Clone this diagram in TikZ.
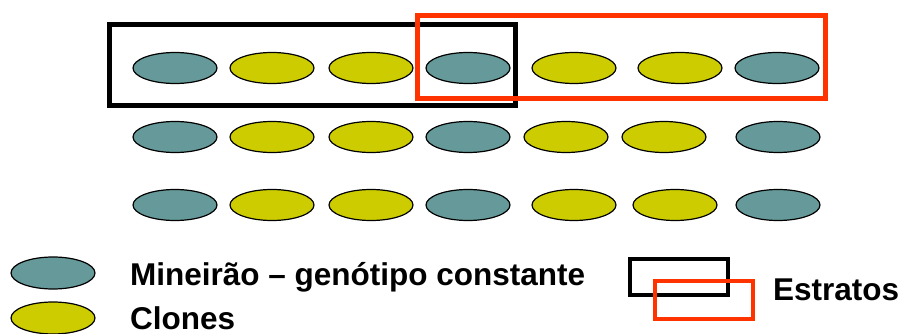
\documentclass[tikz,border=0pt]{standalone}
\usepackage{fontspec}
\setmainfont{Liberation Sans}
\usetikzlibrary{shapes.geometric, positioning}

\definecolor{mineiroteal}{HTML}{669999}
\definecolor{cloneyellow}{HTML}{CCCC00}
\definecolor{estratored}{HTML}{FF3300}

\begin{document}
\begin{tikzpicture}[
    x=1pt, y=-1pt,
    mineirao/.style={ellipse, draw, line width=1.2pt, fill=mineiroteal, minimum width=84pt, minimum height=31pt, inner sep=0pt},
    clone/.style={ellipse, draw, line width=1.2pt, fill=cloneyellow, minimum width=84pt, minimum height=31pt, inner sep=0pt},
    strataK/.style={rectangle, draw=black, line width=5pt, inner sep=0pt},
    strataR/.style={rectangle, draw=estratored, line width=5pt, inner sep=0pt},
    legend/.style={font=\fontsize{31.5}{37}\selectfont\bfseries, inner sep=0pt, anchor=base west}
]
\useasboundingbox (0,0) rectangle (898,334);

% Row 1
\node[mineirao] (r1c1) at (175,68) {};
\node[clone] (r1c2) at (272,68) {};
\node[clone] (r1c3) at (371,68) {};
\node[mineirao] (r1c4) at (468,68) {};
\node[clone] (r1c5) at (574,68) {};
\node[clone] (r1c6) at (680,68) {};
\node[mineirao] (r1c7) at (777,68) {};

% Row 2
\node[mineirao] (r2c1) at (175,137) {};
\node[clone] (r2c2) at (272,137) {};
\node[clone] (r2c3) at (371,137) {};
\node[mineirao] (r2c4) at (468,137) {};
\node[clone] (r2c5) at (566,137) {};
\node[clone] (r2c6) at (664,137) {};
\node[mineirao] (r2c7) at (778,137) {};

% Row 3
\node[mineirao] (r3c1) at (175,205) {};
\node[clone] (r3c2) at (272,205) {};
\node[clone] (r3c3) at (371,205) {};
\node[mineirao] (r3c4) at (468,205) {};
\node[clone] (r3c5) at (574,205) {};
\node[clone] (r3c6) at (675,205) {};
\node[mineirao] (r3c7) at (778,205) {};

% Strata boxes on the first row
\node[strataK, minimum width=406pt, minimum height=81pt] (stratumA) at (312.5,65) {};
\node[strataR, minimum width=408pt, minimum height=83pt] (stratumB) at (621.5,57) {};

% Legend
\node[mineirao, minimum height=32pt] (keyM) at (53,273) {};
\node[clone, minimum height=32pt] (keyC) at (53,318) {};
\node[legend] (txtM) at (130,285) {Mineirão – genótipo constante};
\node[legend] (txtC) at (130,329) {Clones};

\node[strataK, line width=4pt, minimum width=98pt, minimum height=36pt] (keyK) at (679,277) {};
\node[strataR, line width=4pt, minimum width=98pt, minimum height=38pt] (keyR) at (704,300) {};
\node[legend] (txtE) at (773,301) {Estratos};

\end{tikzpicture}
\end{document}
